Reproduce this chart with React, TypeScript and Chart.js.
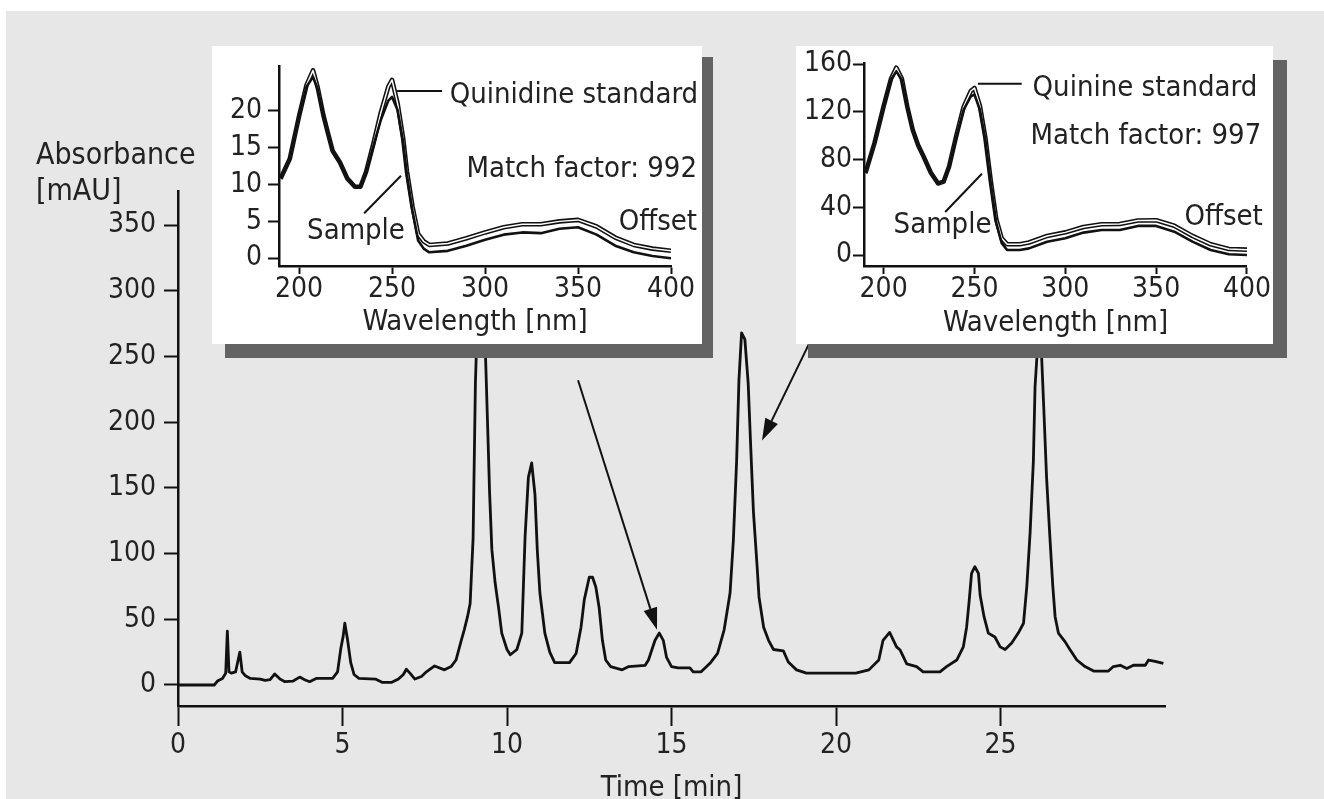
import React, { useEffect, useRef } from "react";
import { Chart, registerables } from "chart.js";

Chart.register(...registerables);

// ---------- data ----------
const timeMin = [0, 1.1, 1.2, 1.35, 1.45, 1.5, 1.55, 1.62, 1.75, 1.88, 1.95, 2.05, 2.2, 2.5, 2.65, 2.8, 2.94, 3.1, 3.25, 3.5, 3.7, 3.85, 4.0, 4.2, 4.7, 4.85, 4.95, 5.02, 5.07, 5.15, 5.25, 5.35, 5.5, 6.0, 6.2, 6.5, 6.7, 6.85, 6.94, 7.05, 7.2, 7.4, 7.55, 7.8, 8.1, 8.3, 8.45, 8.6, 8.7, 8.8, 8.88, 8.97, 9.04, 9.12, 9.2, 9.28, 9.36, 9.42, 9.47, 9.54, 9.64, 9.74, 9.84, 10.0, 10.1, 10.3, 10.45, 10.55, 10.65, 10.75, 10.85, 10.92, 11.0, 11.15, 11.3, 11.45, 11.9, 12.1, 12.25, 12.35, 12.5, 12.6, 12.7, 12.8, 12.9, 13.0, 13.15, 13.5, 13.7, 14.2, 14.3, 14.5, 14.63, 14.75, 14.85, 15.0, 15.2, 15.56, 15.66, 15.9, 16.17, 16.4, 16.6, 16.78, 16.88, 16.98, 17.05, 17.13, 17.23, 17.33, 17.41, 17.49, 17.6, 17.66, 17.8, 17.95, 18.1, 18.4, 18.55, 18.8, 19.1, 20.6, 21.0, 21.3, 21.43, 21.63, 21.84, 21.95, 22.15, 22.45, 22.65, 23.16, 23.36, 23.67, 23.87, 23.97, 24.05, 24.12, 24.22, 24.33, 24.38, 24.5, 24.63, 24.83, 24.99, 25.14, 25.34, 25.54, 25.7, 25.8, 25.9, 26.0, 26.05, 26.12, 26.18, 26.25, 26.32, 26.4, 26.5, 26.59, 26.66, 26.76, 26.96, 27.11, 27.32, 27.57, 27.83, 28.28, 28.43, 28.64, 28.84, 29.04, 29.4, 29.5, 29.7, 29.95];
const absorbance = [0, 0, 3, 5, 9, 41, 10, 9, 10, 25, 10, 7, 5, 4.5, 3.5, 4, 8.4, 4.5, 2.5, 3, 6, 4, 2.5, 5, 5, 10, 28, 37, 47, 35, 17, 8, 5, 4.5, 2, 2, 4.5, 8, 12, 9, 4.5, 6.5, 10, 14.5, 11.5, 14, 19, 33, 42, 52, 62, 112, 230, 295, 335, 305, 240, 190, 147, 103, 77.6, 59.6, 39.5, 27, 23, 27, 39.5, 113, 158, 169, 145, 103, 70, 39.5, 25, 17, 17, 24, 44, 65, 82, 82, 74.6, 59, 34, 19, 14, 11.5, 14, 15, 19, 34, 39.5, 34, 21, 14, 13, 13, 10, 10, 16.5, 24, 42, 70, 110, 171, 232, 268, 263, 230, 180, 132, 91, 67, 44, 34, 27, 26, 17.5, 11.5, 9, 9, 11.5, 19, 34, 40, 29, 26.6, 16, 14, 10, 10, 14, 19, 29, 44, 64.6, 85, 90, 85, 68.5, 52, 39.5, 36.5, 29, 27, 32, 39.5, 47, 75, 116, 171, 227, 255, 280, 250, 208, 158, 113, 75, 52, 39.5, 33, 27, 19, 14, 10.6, 10.6, 14, 15, 12.5, 15, 15, 19, 18, 16.5];
const timeTicks = [0, 5, 10, 15, 20, 25];
const absTicks = [0, 50, 100, 150, 200, 250, 300, 350];

// arrows (data coordinates: [time, mAU])
const arrowTails = [[12.16, 232], [19.36, 269]];
const arrowTips = [[14.56, 42], [17.75, 186]];

// inset 1 : quinidine
const wl1 = [190, 195, 200, 204, 207.5, 210, 213, 215, 218, 222, 226, 230, 233, 236, 240, 244, 248, 250, 253, 256, 258, 261, 264, 267, 270, 280, 290, 300, 310, 320, 330, 340, 350, 360, 370, 380, 390, 400];
const sample1 = [10.8, 13.5, 19.3, 23.3, 24.6, 23.0, 19.5, 17.5, 14.6, 13.0, 10.8, 9.7, 9.7, 11.7, 15.3, 18.8, 21.4, 21.9, 20.1, 15.7, 11.3, 6.4, 2.4, 1.3, 0.8, 1.0, 1.7, 2.5, 3.2, 3.5, 3.4, 4.0, 4.2, 3.2, 1.7, 0.8, 0.3, 0];
const standard1 = [10.8, 13.5, 19.3, 23.5, 25.5, 23.2, 19.5, 17.5, 14.6, 13.0, 10.8, 9.7, 9.7, 11.7, 15.6, 19.8, 23.3, 24.2, 21.0, 16.2, 11.8, 7.0, 3.3, 2.3, 1.8, 2.0, 2.7, 3.5, 4.2, 4.6, 4.6, 5.0, 5.2, 4.3, 2.8, 1.8, 1.3, 1.0];
const ticksInset1 = [0, 5, 10, 15, 20];

// inset 2 : quinine
const wl2 = [190, 195, 200, 204, 207, 210, 213, 216, 219, 222, 226, 230, 233, 236, 240, 244, 248, 250, 253, 256, 259, 262, 265, 268, 275, 280, 290, 300, 310, 320, 330, 340, 350, 360, 370, 380, 390, 400];
const sample2 = [68.6, 94, 124.6, 147, 154, 147, 124.6, 105, 92, 82.6, 69, 60, 61.5, 74, 99.4, 121.8, 133, 134.5, 121.8, 96.6, 60, 27, 10, 4.2, 4.2, 5.6, 11.2, 14, 18.8, 21, 21, 24.4, 24.4, 19.6, 11.2, 4.2, 0.6, 0];
const standard2 = [68.6, 94, 124.6, 147.5, 157, 148, 124.6, 105, 92, 82.6, 69, 60, 61.5, 74, 100, 124, 137.5, 140, 125, 98.5, 62, 30, 14, 9, 9, 10.5, 16, 19, 23.5, 25.8, 26, 29, 29.2, 24.5, 16, 9, 5, 4.5];
const ticksInset2 = [0, 40, 80, 120, 160];
const nmTicks = [200, 250, 300, 350, 400];

// ---------- style ----------
const TICK_FONT = '"DejaVu Sans Condensed", "Liberation Sans Narrow", "Arial Narrow", sans-serif';
const TEXT_FONT = '"DejaVu Sans Condensed", "Liberation Sans Narrow", "Arial Narrow", sans-serif';
const TICK_SIZE = 28;
const TEXT_SIZE = 29;
const INK = "#111111";
const TEXT = "#222222";
const GRAY = "#e7e7e7";
const SHADOW = "#636363";

function axis(tickLen: number, pad: number, tickVals: number[]) {
  return {
    grid: { drawOnChartArea: false, drawTicks: true, tickLength: tickLen, tickWidth: 2, tickColor: INK },
    border: { display: true, color: INK, width: 2.5 },
    ticks: {
      color: TEXT,
      font: { family: TICK_FONT, size: TICK_SIZE, lineHeight: 1 },
      padding: pad,
      maxRotation: 0,
      autoSkip: false,
    },
    afterBuildTicks: (s: any) => {
      s.ticks = tickVals.map((v) => ({ value: v }));
    },
  };
}

function drawArrow(ctx: CanvasRenderingContext2D, x1: number, y1: number, x2: number, y2: number) {
  const ang = Math.atan2(y2 - y1, x2 - x1);
  const hl = 22;
  const hw = 7;
  const bx = x2 - hl * Math.cos(ang);
  const by = y2 - hl * Math.sin(ang);
  ctx.beginPath();
  ctx.moveTo(x1, y1);
  ctx.lineTo(bx, by);
  ctx.lineWidth = 2;
  ctx.stroke();
  ctx.beginPath();
  ctx.moveTo(x2, y2);
  ctx.lineTo(bx + hw * Math.sin(ang), by - hw * Math.cos(ang));
  ctx.lineTo(bx - hw * Math.sin(ang), by + hw * Math.cos(ang));
  ctx.closePath();
  ctx.fill();
}

const mainDecor = {
  id: "mainDecor",
  afterDatasetsDraw(chart: any) {
    const { ctx, scales } = chart;
    const x = scales.x;
    const y = scales.y;
    ctx.save();
    ctx.fillStyle = TEXT;
    ctx.font = `${TEXT_SIZE + 1}px ${TEXT_FONT}`;
    ctx.textAlign = "left";
    ctx.textBaseline = "alphabetic";
    ctx.fillText("Absorbance", 36, 164);
    ctx.fillText("[mAU]", 36, 200);
    ctx.strokeStyle = INK;
    ctx.fillStyle = INK;
    arrowTails.forEach((t, i) => {
      const h = arrowTips[i];
      drawArrow(ctx, x.getPixelForValue(t[0]), y.getPixelForValue(t[1]), x.getPixelForValue(h[0]), y.getPixelForValue(h[1]));
    });
    ctx.restore();
  },
};

type Label = { text: string; at: number[]; align: "left" | "right" };
type Seg = { from: number[]; to: number[] };

function insetDecor(labels: Label[], segs: Seg[]) {
  return {
    id: "insetDecor",
    afterDatasetsDraw(chart: any) {
      const { ctx, scales } = chart;
      const x = scales.x;
      const y = scales.y;
      ctx.save();
      ctx.strokeStyle = INK;
      ctx.lineWidth = 2;
      segs.forEach((s) => {
        ctx.beginPath();
        ctx.moveTo(x.getPixelForValue(s.from[0]), y.getPixelForValue(s.from[1]));
        ctx.lineTo(x.getPixelForValue(s.to[0]), y.getPixelForValue(s.to[1]));
        ctx.stroke();
      });
      ctx.fillStyle = TEXT;
      ctx.font = `${TEXT_SIZE}px ${TEXT_FONT}`;
      ctx.textBaseline = "middle";
      labels.forEach((l) => {
        ctx.textAlign = l.align;
        ctx.fillText(l.text, x.getPixelForValue(l.at[0]), y.getPixelForValue(l.at[1]));
      });
      ctx.restore();
    },
  };
}

function insetConfig(
  wl: number[],
  sample: number[],
  standard: number[],
  yMin: number,
  yMax: number,
  yTicks: number[],
  yPad: number,
  layout: { top: number; right: number; yWidth: number; titlePad: number },
  labels: Label[],
  segs: Seg[]
): any {
  const pts = (vals: number[]) => wl.map((w, i) => ({ x: w, y: vals[i] }));
  const xAxis: any = axis(8, 2, nmTicks);
  const yAxis: any = axis(11, yPad, yTicks);
  return {
    type: "line",
    data: {
      datasets: [
        { label: "Sample", data: pts(sample), borderColor: INK, borderWidth: 2.6, order: 0 },
        { label: "Standard", data: pts(standard), borderColor: "#ffffff", borderWidth: 1.5, order: 1 },
        { label: "Standard outline", data: pts(standard), borderColor: INK, borderWidth: 4.6, order: 2 },
      ],
    },
    options: {
      responsive: false,
      animation: false,
      events: [],
      layout: { padding: { left: 0, top: layout.top, right: layout.right, bottom: 0 } },
      elements: { point: { radius: 0 }, line: { tension: 0, borderJoinStyle: "round" } },
      plugins: { legend: { display: false }, tooltip: { enabled: false } },
      scales: {
        x: {
          type: "linear",
          min: wl[0] - 0.8,
          max: 400,
          ...xAxis,
          afterFit: (s: any) => {
            s.height = 78;
          },
          title: {
            display: true,
            text: "Wavelength [nm]",
            color: TEXT,
            font: { family: TEXT_FONT, size: TEXT_SIZE, lineHeight: 1 },
            padding: { top: 0, bottom: layout.titlePad },
          },
        },
        y: {
          type: "linear",
          min: yMin,
          max: yMax,
          ...yAxis,
          afterFit: (s: any) => {
            s.width = layout.yWidth;
          },
        },
      },
    },
    plugins: [insetDecor(labels, segs)],
  };
}

function mainConfig(): any {
  const xAxis: any = axis(20, 6, timeTicks);
  const yAxis: any = axis(14, 8, absTicks);
  return {
    type: "line",
    data: {
      datasets: [
        {
          label: "Absorbance",
          data: timeMin.map((t, i) => ({ x: t, y: absorbance[i] })),
          borderColor: INK,
          borderWidth: 2.8,
          pointRadius: 0,
          tension: 0,
          borderJoinStyle: "round",
        },
      ],
    },
    options: {
      responsive: false,
      animation: false,
      events: [],
      layout: { padding: { left: 0, top: 191, right: 159, bottom: 0 } },
      plugins: { legend: { display: false }, tooltip: { enabled: false } },
      scales: {
        x: {
          type: "linear",
          min: 0,
          max: 30,
          ...xAxis,
          afterFit: (s: any) => {
            s.height = 93;
          },
          title: {
            display: true,
            text: "Time [min]",
            color: TEXT,
            font: { family: TEXT_FONT, size: TEXT_SIZE, lineHeight: 1 },
            padding: { top: 0, bottom: -4 },
          },
        },
        y: {
          type: "linear",
          min: -16,
          max: 376,
          ...yAxis,
          afterFit: (s: any) => {
            s.width = 178;
          },
        },
      },
    },
    plugins: [mainDecor],
  };
}

const labels1: Label[] = [
  { text: "Quinidine standard", at: [281, 22.1], align: "left" },
  { text: "Match factor: 992", at: [414, 12.0], align: "right" },
  { text: "Offset", at: [414, 4.9], align: "right" },
  { text: "Sample", at: [204.3, 3.6], align: "left" },
];
const segs1: Seg[] = [
  { from: [252.7, 22.7], to: [276.9, 22.7] },
  { from: [235, 6.1], to: [254.8, 11.2] },
];
const labels2: Label[] = [
  { text: "Quinine standard", at: [282, 140], align: "left" },
  { text: "Match factor: 997", at: [280.9, 99], align: "left" },
  { text: "Offset", at: [408.7, 31.5], align: "right" },
  { text: "Sample", at: [205.5, 25], align: "left" },
];
const segs2: Seg[] = [
  { from: [251.9, 143.7], to: [276, 143.7] },
  { from: [233.9, 36.1], to: [254.1, 68.1] },
];

export default function App() {
  const mainRef = useRef<HTMLCanvasElement>(null);
  const in1Ref = useRef<HTMLCanvasElement>(null);
  const in2Ref = useRef<HTMLCanvasElement>(null);

  useEffect(() => {
    const charts: Chart[] = [];
    if (mainRef.current) charts.push(new Chart(mainRef.current, mainConfig()));
    if (in1Ref.current)
      charts.push(
        new Chart(
          in1Ref.current,
          insetConfig(wl1, sample1, standard1, -1.06, 26.1, ticksInset1, 6, { top: 16, right: 31, yWidth: 67, titlePad: 7.5 }, labels1, segs1)
        )
      );
    if (in2Ref.current)
      charts.push(
        new Chart(
          in2Ref.current,
          insetConfig(wl2, sample2, standard2, -9.2, 161, ticksInset2, 1, { top: 17, right: 24, yWidth: 68, titlePad: 6.5 }, labels2, segs2)
        )
      );
    return () => charts.forEach((c) => c.destroy());
  }, []);

  const abs = (l: number, t: number, w: number, h: number, bg: string): React.CSSProperties => ({
    position: "absolute",
    left: l,
    top: t,
    width: w,
    height: h,
    background: bg,
  });

  return (
    <div style={{ position: "fixed", left: 0, top: 0, width: 1324, height: 799, background: "#ffffff", overflow: "hidden" }}>
      <div style={{ position: "absolute", left: 6, top: 11, right: 0, bottom: 0, background: GRAY }} />
      <canvas ref={mainRef} width={1324} height={799} style={{ position: "absolute", left: 0, top: 0, width: 1324, height: 799 }} />
      <div style={abs(225, 57, 488, 301, SHADOW)} />
      <div style={abs(212, 46, 490, 298, "#ffffff")}>
        <canvas ref={in1Ref} width={490} height={298} style={{ display: "block", width: 490, height: 298 }} />
      </div>
      <div style={abs(808, 60, 479, 298, SHADOW)} />
      <div style={abs(796, 46, 477, 298, "#ffffff")}>
        <canvas ref={in2Ref} width={477} height={298} style={{ display: "block", width: 477, height: 298 }} />
      </div>
    </div>
  );
}
